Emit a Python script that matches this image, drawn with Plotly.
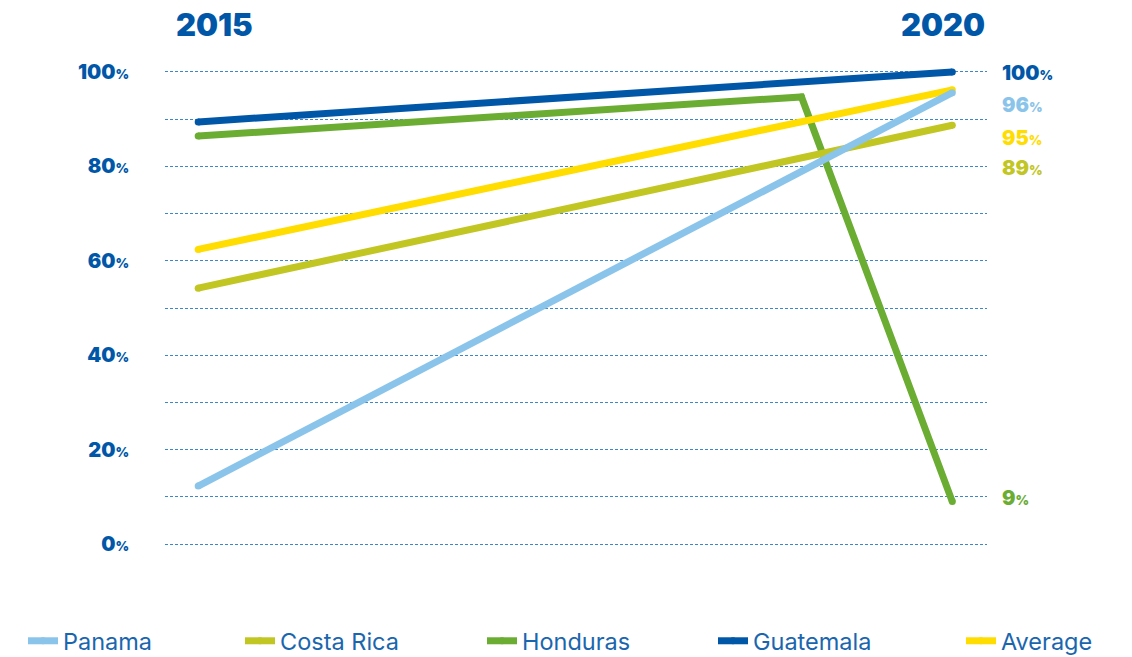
import plotly.graph_objects as go

years = [2015, 2020]
honduras_years = [2015, 2019, 2020]
panama = [12.3, 95.6]
costa_rica = [54.2, 88.7]
honduras = [86.4, 94.7, 9]
guatemala = [89.4, 100]
average = [62.4, 96.2]

end_labels = ["100", "96", "95", "89", "9"]
end_label_colors = ["#0057A8", "#8BC4EA", "#FFDD00", "#C2C623", "#6AAD32"]
end_label_y = [99.8, 92.9, 86.1, 79.6, 9.7]

tick_vals = list(range(0, 101, 10))
tick_text = [f"{v}<span style='font-size:13px'>%</span>" if v % 20 == 0 else "" for v in tick_vals]

BLUE = "#0057A8"
FONT = "Inter"

series = [
    ("Panama", years, panama, "#8BC4EA"),
    ("Costa Rica", years, costa_rica, "#C2C623"),
    ("Honduras", honduras_years, honduras, "#6AAD32"),
    ("Guatemala", years, guatemala, "#0057A8"),
    ("Average", years, average, "#FFDD00"),
]
legend_ids = {s[0]: ("legend" if i == 0 else f"legend{i + 1}") for i, s in enumerate(series)}
legend_x_px = [23, 240, 482, 713, 961]

fig = go.Figure()
draw_order = ["Guatemala", "Honduras", "Average", "Costa Rica", "Panama"]
lookup = {s[0]: s for s in series}
for name in draw_order:
    n, x, y, c = lookup[name]
    fig.add_trace(go.Scatter(x=x, y=y, mode="lines+markers", name=n,
                             line=dict(color=c, width=7),
                             marker=dict(color=c, size=7, line=dict(width=0)),
                             legend=legend_ids[n], hoverinfo="skip"))

for txt, col, yv in zip(end_labels, end_label_colors, end_label_y):
    fig.add_annotation(x=1.016, xref="paper", y=yv, yref="y", xanchor="left", yanchor="middle",
                       text=f"{txt}<span style='font-size:13px'>%</span>", showarrow=False,
                       font=dict(family=FONT, size=20, color=col, weight=900))

for yr, shift in zip(years, [16, -9]):
    fig.add_annotation(x=yr, xref="x", y=1.055, yref="paper", text=str(yr), showarrow=False,
                       xanchor="center", yanchor="middle", xshift=shift,
                       font=dict(family=FONT, size=31, color=BLUE, weight=900))

W, H = 1132, 657
legend_font = dict(family=FONT, size=23.5, color="#1A66AE")
legend_layout = {}
for (name, _, _, _), px in zip(series, legend_x_px):
    legend_layout[legend_ids[name]] = dict(
        orientation="h", xref="container", x=px / W, xanchor="left",
        yref="container", y=1 - 641 / H, yanchor="middle",
        font=legend_font, bgcolor="rgba(0,0,0,0)", borderwidth=0)

fig.update_layout(
    width=W, height=H,
    margin=dict(l=165, r=145, t=53, b=94, autoexpand=False),
    paper_bgcolor="white", plot_bgcolor="white",
    showlegend=True,
    xaxis=dict(range=[2014.78, 2020.23], showgrid=False, zeroline=False,
               showticklabels=False, showline=False, fixedrange=True),
    yaxis=dict(range=[-4, 104], tickvals=tick_vals, ticktext=tick_text,
               showgrid=True, gridcolor="#3D86C8", griddash="3px,2px", gridwidth=1,
               zeroline=False, showline=False, ticks="",
               ticklabelstandoff=35,
               tickfont=dict(family=FONT, size=20, color=BLUE, weight=900)),
    **legend_layout,
)

fig.write_html("out.html", config={"displayModeBar": False},
               post_script="document.body.style.margin='0';document.body.style.padding='0';")
